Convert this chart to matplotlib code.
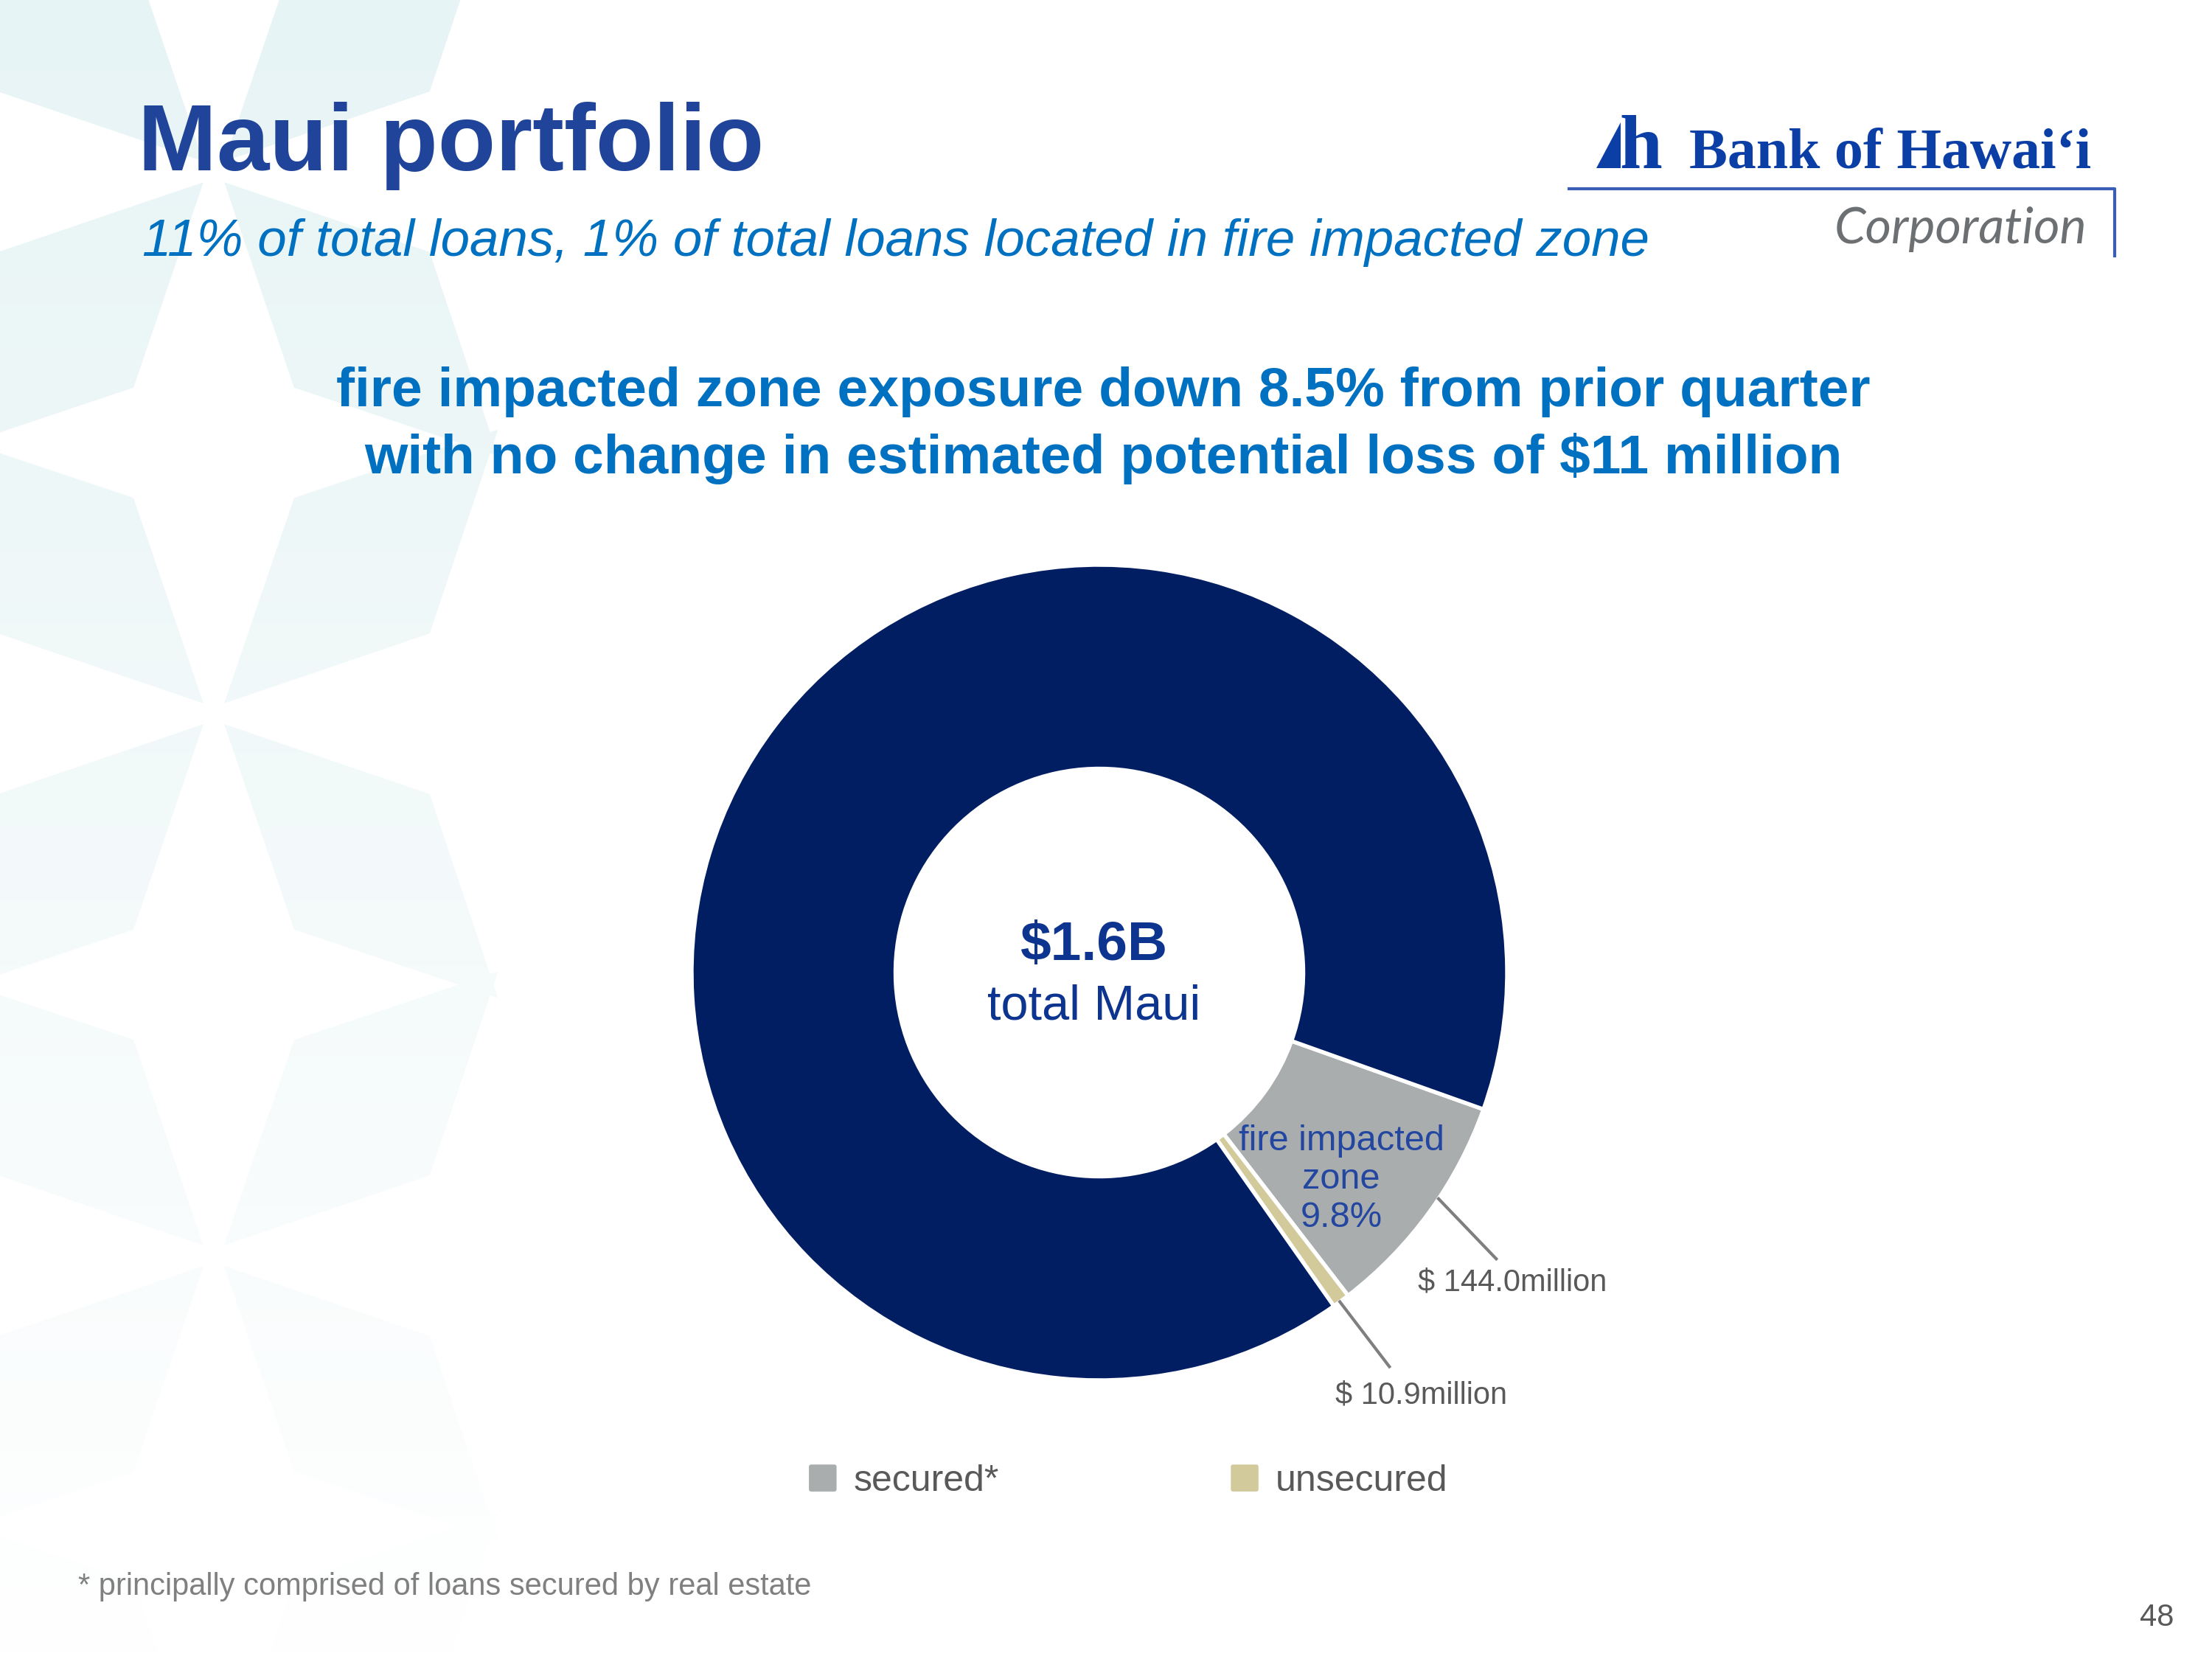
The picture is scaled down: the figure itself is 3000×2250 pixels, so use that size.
import numpy as np
import matplotlib.pyplot as plt
from matplotlib.patches import Polygon, Patch, FancyBboxPatch
from matplotlib.legend_handler import HandlerPatch
from matplotlib.colors import LinearSegmentedColormap

plt.rcParams['font.family'] = ['Liberation Sans', 'DejaVu Sans']

# Maui loan book, $ million
total_maui = 1580.0
fire_secured = 144.0
fire_unsecured = 10.9
slice_names = ['secured*', 'unsecured', 'rest of Maui']
slice_values = [fire_secured, fire_unsecured, total_maui - fire_secured - fire_unsecured]
slice_colors = ['#A9ADAE', '#D3CA9C', '#021E62']
value_labels = ['$ 144.0million', '$ 10.9million']
fire_label = 'fire impacted\nzone\n9.8%'

title = 'Maui portfolio'
subtitle = '11% of total loans, 1% of total loans located in fire impacted zone'
headline = ['fire impacted zone exposure down 8.5% from prior quarter',
            'with no change in estimated potential loss of $11 million']
center_big = '$1.6B'
center_small = 'total Maui'
footnote = '* principally comprised of loans secured by real estate'
page_no = '48'

W, H = 3000, 2250
fig = plt.figure(figsize=(10, 7.5), dpi=300)
page = fig.add_axes([0, 0, 1, 1])
page.axis('off')

# faint star pattern on the left side of the slide
grad = np.linspace(0, 1, 256).reshape(-1, 1)
bg_cmap = LinearSegmentedColormap.from_list('bg', ['#E7F4F5', '#FFFFFF'])


def kite(cx, cy, ang):
    u = np.array([np.cos(ang), np.sin(ang)])
    v = np.array([-u[1], u[0]])
    shape = [(20, 0), (284, 130), (545, 0), (284, -130)]
    return [(cx + a * u[0] + b * v[0], cy + a * u[1] + b * v[1]) for a, b in shape]


for sy in [-502, 233, 968, 1703, 2438]:
    for ang in [45, 135, 225, 315]:
        poly = Polygon(kite(290, sy, np.radians(ang)), closed=True,
                       facecolor='none', edgecolor='none')
        page.add_patch(poly)
        im = page.imshow(grad, cmap=bg_cmap, extent=(0, W, H, 0),
                         aspect='auto', zorder=0)
        im.set_clip_path(poly)

page.set_xlim(0, W)
page.set_ylim(H, 0)

# titles
page.text(187, 231, title, fontsize=30.8, fontweight='bold', color='#1F449A',
          ha='left', va='baseline')
page.text(193, 347, subtitle, fontsize=17, fontstyle='italic', color='#0070C0',
          ha='left', va='baseline')
for y, line in zip([551, 642], headline):
    page.text(1496, y, line, fontsize=18, fontweight='bold', color='#0070C0',
              ha='center', va='baseline')

# logo
page.add_patch(Polygon([(2165, 228), (2198, 228), (2198, 166)], closed=True,
                       facecolor='#0B3FA6', edgecolor='none'))
page.text(2196, 228, 'h', fontsize=25, fontweight='bold', color='#0B3FA6',
          family=['Liberation Serif', 'DejaVu Serif'], ha='left', va='baseline')
page.text(2291, 228, 'Bank of Hawai\u2018i', fontsize=18.7, fontweight='bold',
          color='#0B3FA6', family=['Liberation Serif', 'DejaVu Serif'],
          ha='left', va='baseline')
page.plot([2128, 2868, 2868], [256, 256, 347], color='#3A5DB5', lw=1.0)
page.text(2830, 330, 'Corporation', fontsize=16.4, fontstyle='italic', color='#6D7073',
          family=['Lato', 'Open Sans', 'DejaVu Sans'], ha='right', va='baseline')

# footnote and page number
page.text(106, 2152, footnote, fontsize=10, color='#808080', ha='left', va='center')
page.text(2925, 2194, page_no, fontsize=10, color='#595959', ha='center', va='center')

# donut
cx, cy, r = 1491, 1319, 553
ax = fig.add_axes([(cx - r) / W, (H - cy - r) / H, 2 * r / W, 2 * r / H])
ax.patch.set_alpha(0)
wedges, _ = ax.pie(slice_values, colors=slice_colors, startangle=-19.6,
                   counterclock=False, radius=1,
                   wedgeprops=dict(width=0.5, edgecolor='white', linewidth=1.3))
ax.set_xlim(-1, 1)
ax.set_ylim(-1, 1)
ax.set_aspect('equal')

# leader lines: (start angle shift, end angle shift), label (radius, angle shift)
leader_shift = [(2.3, 0.2), (-0.2, 0.0)]
label_pos = [(1.267, -0.9), (1.303, 0.9)]
for w, lab, (s0, s1), (lr, la) in zip(wedges[:2], value_labels, leader_shift, label_pos):
    mid = (w.theta1 + w.theta2) / 2
    a0, a1, a2 = np.radians([mid + s0, mid + s1, mid + la])
    ax.plot([1.0 * np.cos(a0), 1.2 * np.cos(a1)],
            [1.0 * np.sin(a0), 1.2 * np.sin(a1)],
            color='#7F7F7F', lw=1.0, clip_on=False)
    ax.text(lr * np.cos(a2), lr * np.sin(a2), lab, fontsize=10,
            color='#595959', ha='center', va='center')

w0 = wedges[0]
mid = np.radians((w0.theta1 + w0.theta2) / 2 - 4.5)
ax.text(0.78 * np.cos(mid), 0.78 * np.sin(mid), fire_label, fontsize=11.7,
        color='#2346A0', ha='center', va='center', linespacing=1.2)

ax.text(-0.014, 0.031, center_big, fontsize=18, fontweight='bold', color='#0D3590',
        ha='center', va='baseline')
ax.text(-0.014, -0.114, center_small, fontsize=16, color='#0D3590',
        ha='center', va='baseline')


def round_square(legend, orig_handle, xdescent, ydescent, width, height, fontsize):
    pad = 0.7
    return FancyBboxPatch((-xdescent + pad, -ydescent + pad), width - 2 * pad,
                          height - 2 * pad, boxstyle=f'round,pad={pad}')


handles = [Patch(facecolor=c, edgecolor='none') for c in slice_colors[:2]]
fig.legend(handles, slice_names[:2], loc='center',
           bbox_to_anchor=(1530 / W, 1 - 2009 / H), ncol=2, frameon=False,
           fontsize=12, handlelength=0.75, handleheight=0.75, handletextpad=0.45,
           columnspacing=6.3, labelcolor='#595959',
           handler_map={Patch: HandlerPatch(patch_func=round_square)})

fig.savefig('out.png', dpi=300)
